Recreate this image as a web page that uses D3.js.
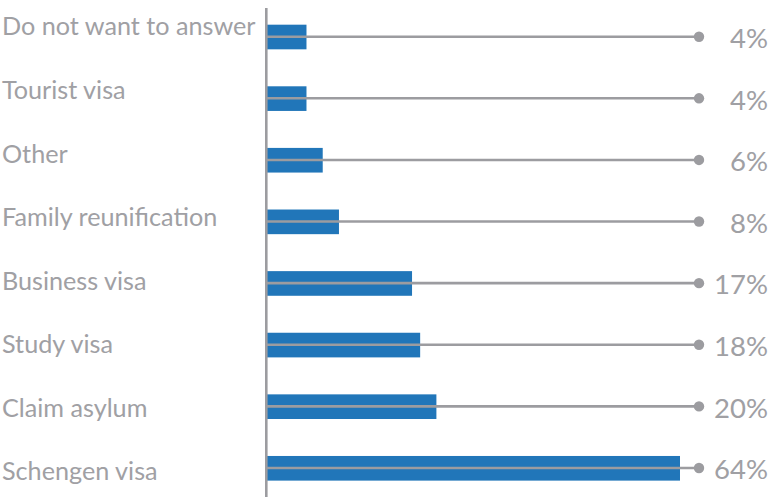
<!DOCTYPE html>
<html>
<head>
<meta charset="utf-8">
<script src="https://cdn.jsdelivr.net/npm/d3@7"></script>
<style>
  html, body { margin: 0; padding: 0; background: #fff; }
  svg { display: block; }
  text { font-family: "Lato", "Open Sans", sans-serif; }
</style>
</head>
<body>
<svg id="chart" width="783" height="497"></svg>
<script>
// Reasons for travelling, share of respondents (%)
const categories = [
  "Do not want to answer",
  "Tourist visa",
  "Other",
  "Family reunification",
  "Business visa",
  "Study visa",
  "Claim asylum",
  "Schengen visa"
];
const values = [4, 4, 6, 8, 17, 18, 20, 64];
const valueLabels = ["4%", "4%", "6%", "8%", "17%", "18%", "20%", "64%"];

const W = 783, H = 497;
const axisX = 266.3;
const barColor = "#2176b9";
const grey = "#9c9ca0";
const textGrey = "#a0a0a4";

const svg = d3.select("#chart");

// Rows for bars / leader lines
const y = d3.scaleBand()
  .domain(categories)
  .range([6.2, 499.1])
  .paddingInner(0.6)
  .paddingOuter(0.3);

// Rows for the category labels (slightly wider spacing)
const yLabel = d3.scaleBand()
  .domain(categories)
  .range([-5.4, 503])
  .padding(0);

// Value scale; the longest bar is held at the end of the track
const x = d3.scaleLinear()
  .domain([0, 50])
  .range([274, 680])
  .clamp(true);

const dotX = 699;

// Bars
svg.append("g")
  .selectAll("rect")
  .data(values)
  .join("rect")
  .attr("x", axisX)
  .attr("y", (d, i) => y(categories[i]))
  .attr("width", d => x(d) - axisX)
  .attr("height", y.bandwidth())
  .attr("fill", barColor);

// Leader lines across each row
const leaders = svg.append("g");
leaders.selectAll("line")
  .data(values)
  .join("line")
  .attr("x1", axisX)
  .attr("x2", dotX)
  .attr("y1", (d, i) => y(categories[i]) + y.bandwidth() / 2 - 0.3)
  .attr("y2", (d, i) => y(categories[i]) + y.bandwidth() / 2 - 0.3)
  .attr("stroke", grey)
  .attr("stroke-width", 2.6);

leaders.selectAll("circle")
  .data(values)
  .join("circle")
  .attr("cx", dotX)
  .attr("cy", (d, i) => y(categories[i]) + y.bandwidth() / 2 - 0.3)
  .attr("r", 5.2)
  .attr("fill", grey);

// Vertical axis line
svg.append("line")
  .attr("x1", axisX).attr("x2", axisX)
  .attr("y1", 8).attr("y2", H)
  .attr("stroke", grey)
  .attr("stroke-width", 2.6);

// Category labels
svg.append("g")
  .selectAll("text")
  .data(categories)
  .join("text")
  .attr("x", 2)
  .attr("y", d => yLabel(d) + yLabel.bandwidth() / 2)
  .attr("dy", "0.36em")
  .attr("fill", textGrey)
  .attr("font-size", 25.2)
  .text(d => d);

// Value labels
svg.append("g")
  .selectAll("text")
  .data(valueLabels)
  .join("text")
  .attr("x", 768)
  .attr("y", (d, i) => y(categories[i]) + y.bandwidth() / 2 + 1)
  .attr("dy", "0.36em")
  .attr("text-anchor", "end")
  .attr("fill", textGrey)
  .attr("font-size", 27.5)
  .text(d => d);
</script>
</body>
</html>
